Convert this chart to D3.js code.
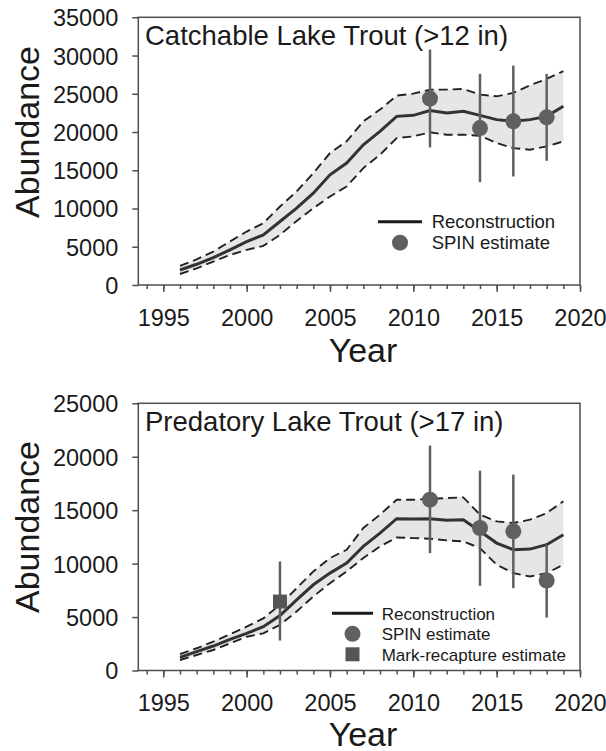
<!DOCTYPE html>
<html><head><meta charset="utf-8">
<script src="https://cdn.jsdelivr.net/npm/d3@7"></script>
<style>body{margin:0;background:#fff} text{font-family:"Liberation Sans",Arial,sans-serif;fill:#1a1a1a}</style>
</head><body><svg id="c" width="606" height="751"></svg>
<script>
// ---------- data ----------
const years = [1996,1997,1998,1999,2000,2001,2002,2003,2004,2005,2006,2007,2008,2009,2010,2011,2012,2013,2014,2015,2016,2017,2018,2019];

// Catchable lake trout (>12 in)
const catchMid   = [1965,2710,3580,4590,5680,6550,8300,10040,12010,14410,15940,18340,20090,22050,22180,22800,22490,22710,22180,21620,21400,21620,22050,23360];
const catchUpper = [2490,3360,4370,5680,6990,8080,10260,12230,14630,17250,18780,21400,22930,24760,25020,25550,25550,25630,24890,24670,25110,26110,26940,27950];
const catchLower = [1440,2180,3060,3930,4590,5110,6550,8380,10040,11570,12880,15280,17030,19210,19430,19960,19650,19650,19520,18560,17900,17690,18120,18780];
const catchSpinYears = [2011,2014,2016,2018];
const catchSpin      = [24370,20520,21400,21920];
const catchSpinLo    = [17990,13450,14190,16240];
const catchSpinHi    = [30790,27600,28690,27600];

// Predatory lake trout (>17 in)
const predMid   = [1230,1760,2290,2920,3480,4100,5140,6610,8020,9110,10050,11610,12860,14200,14170,14200,14050,14110,13020,11920,11300,11360,11770,12700];
const predUpper = [1540,2080,2700,3390,4100,4880,6140,7700,9270,10520,11300,13330,14580,15980,15980,16050,16140,16200,14580,13950,13800,14110,14730,15830];
const predLower = [980,1450,1920,2540,3160,3480,4270,5520,6920,8170,9270,10520,11610,12450,12390,12330,12170,12080,11450,9890,9110,8800,9110,9890];
const predSpinYears = [2011,2014,2016,2018];
const predSpin      = [15980,13330,13020,8420];
const predSpinLo    = [10980,7920,7700,4950];
const predSpinHi    = [21050,18700,18330,11770];
const markYears = [2002];
const markEst   = [6450];
const markLo    = [2800];
const markHi    = [10200];

const catchYTicks = [0,5000,10000,15000,20000,25000,30000,35000];
const predYTicks  = [0,5000,10000,15000,20000,25000];
const xMajorTicks = [1995,2000,2005,2010,2015,2020];
const xMinorTicks = [1994,1995,1996,1997,1998,1999,2000,2001,2002,2003,2004,2005,2006,2007,2008,2009,2010,2011,2012,2013,2014,2015,2016,2017,2018,2019,2020];

const legendLabels = ["Reconstruction","SPIN estimate","Mark-recapture estimate"];

// ---------- drawing ----------
const svg = d3.select("#c");
const x = d3.scaleLinear().domain([1993.5, 2020]).range([138.3, 580]);

const AXIS = "#4d4d4d", PT = "#606060";

function panel(cfg) {
  const g = svg.append("g");
  const y = d3.scaleLinear().domain([0, cfg.yMax]).range([cfg.bottom, cfg.top]);

  const area = d3.area()
    .x((d,i) => x(years[i])).y0((d,i) => y(cfg.lower[i])).y1((d,i) => y(cfg.upper[i]));
  g.append("path").datum(years).attr("d", area).attr("fill", "#e6e6e6");

  const line = arr => d3.line().x((d,i) => x(years[i])).y((d,i) => y(arr[i]))(years);
  [cfg.upper, cfg.lower].forEach(arr => {
    g.append("path").attr("d", line(arr)).attr("fill","none")
      .attr("stroke","#222").attr("stroke-width",1.9).attr("stroke-dasharray","9,5");
  });
  g.append("path").attr("d", line(cfg.mid)).attr("fill","none")
    .attr("stroke","#333").attr("stroke-width",3);

  // error bars
  const bars = cfg.spinYears.map((yr,i) => ({yr, lo: cfg.spinLo[i], hi: cfg.spinHi[i]}));
  if (cfg.markYears) cfg.markYears.forEach((yr,i) => bars.push({yr, lo: cfg.markLo[i], hi: cfg.markHi[i]}));
  g.selectAll(null).data(bars).join("line")
    .attr("x1", d => x(d.yr)).attr("x2", d => x(d.yr))
    .attr("y1", d => y(d.lo)).attr("y2", d => y(d.hi))
    .attr("stroke", PT).attr("stroke-width", 2.5);

  g.selectAll(null).data(cfg.spinYears).join("circle")
    .attr("cx", d => x(d)).attr("cy", (d,i) => y(cfg.spin[i])).attr("r", 8).attr("fill", PT);
  if (cfg.markYears) {
    g.selectAll(null).data(cfg.markYears).join("rect")
      .attr("x", d => x(d) - 7).attr("y", (d,i) => y(cfg.mark[i]) - 7)
      .attr("width", 14).attr("height", 14).attr("fill", "#555");
  }

  // frame
  g.append("rect").attr("x", x.range()[0]).attr("y", cfg.top)
    .attr("width", x.range()[1] - x.range()[0]).attr("height", cfg.bottom - cfg.top)
    .attr("fill","none").attr("stroke", AXIS).attr("stroke-width", 1.5);

  // y axis
  const ya = g.append("g").attr("transform", `translate(${x.range()[0]},0)`)
    .call(d3.axisLeft(y).tickValues(cfg.yTicks).tickFormat(d3.format("d")).tickSize(6).tickSizeOuter(0).tickPadding(14));
  ya.select(".domain").remove();
  ya.selectAll("line").attr("stroke", AXIS).attr("stroke-width",1.5);
  ya.selectAll("text").attr("font-size", 23.5).attr("fill","#1a1a1a").attr("dy","0.36em");

  // x axis: minor and major
  const xm = g.append("g").attr("transform", `translate(0,${cfg.bottom})`)
    .call(d3.axisBottom(x).tickValues(xMinorTicks).tickFormat("").tickSize(4).tickSizeOuter(0));
  xm.select(".domain").remove();
  xm.selectAll("line").attr("stroke", AXIS).attr("stroke-width",1.5);
  const xa = g.append("g").attr("transform", `translate(0,${cfg.bottom})`)
    .call(d3.axisBottom(x).tickValues(xMajorTicks).tickFormat(d3.format("d")).tickSize(7).tickSizeOuter(0).tickPadding(17));
  xa.select(".domain").remove();
  xa.selectAll("line").attr("stroke", AXIS).attr("stroke-width",1.5);
  xa.selectAll("text").attr("font-size", 23.5).attr("fill","#1a1a1a");

  // titles
  g.append("text").attr("x", 145).attr("y", cfg.top + 28).attr("font-size", 27.5).text(cfg.title);
  g.append("text").attr("transform", `translate(39,${cfg.ylabY}) rotate(-90)`)
    .attr("text-anchor","middle").attr("font-size", 34).text("Abundance");
  g.append("text").attr("x", 363).attr("y", cfg.bottom + cfg.yearDy).attr("text-anchor","middle")
    .attr("font-size", 34).text("Year");

  // legend
  const L = cfg.legend;
  g.append("line").attr("x1", L.x1).attr("x2", L.x2).attr("y1", L.y).attr("y2", L.y)
    .attr("stroke","#1a1a1a").attr("stroke-width",3);
  const cx = (L.x1 + L.x2) / 2;
  g.append("text").attr("x", L.tx).attr("y", L.y + 6.5).attr("font-size", L.fs).text(legendLabels[0]);
  g.append("circle").attr("cx", cx).attr("cy", L.y + L.dy).attr("r", 8).attr("fill", PT);
  g.append("text").attr("x", L.tx).attr("y", L.y + L.dy + 6.5).attr("font-size", L.fs).text(legendLabels[1]);
  if (cfg.markYears) {
    g.append("rect").attr("x", cx - 7).attr("y", L.y + 2*L.dy - 7).attr("width",14).attr("height",14).attr("fill","#555");
    g.append("text").attr("x", L.tx).attr("y", L.y + 2*L.dy + 6.5).attr("font-size", L.fs).text(legendLabels[2]);
  }
}

panel({
  top: 17.3, bottom: 285, yMax: 35000, yTicks: catchYTicks,
  mid: catchMid, upper: catchUpper, lower: catchLower,
  spinYears: catchSpinYears, spin: catchSpin, spinLo: catchSpinLo, spinHi: catchSpinHi,
  title: "Catchable Lake Trout (>12 in)", ylabY: 132, yearDy: 77,
  legend: {x1: 378, x2: 422, y: 221.7, tx: 431.7, dy: 21, fs: 18.5}
});
panel({
  top: 403.3, bottom: 670.5, yMax: 25000, yTicks: predYTicks,
  mid: predMid, upper: predUpper, lower: predLower,
  spinYears: predSpinYears, spin: predSpin, spinLo: predSpinLo, spinHi: predSpinHi,
  markYears, mark: markEst, markLo, markHi,
  title: "Predatory Lake Trout (>17 in)", ylabY: 527, yearDy: 75,
  legend: {x1: 332, x2: 373, y: 613.3, tx: 381.7, dy: 20.5, fs: 17}
});
</script></body></html>
